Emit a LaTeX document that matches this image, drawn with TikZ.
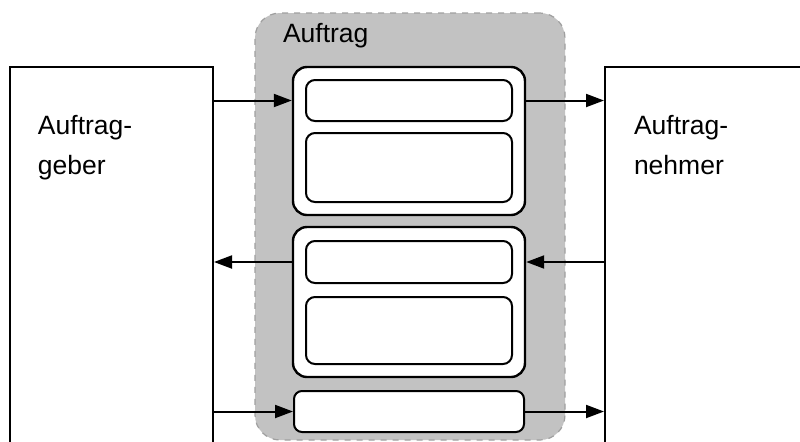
\documentclass[tikz,border=0pt]{standalone}
\usepackage{fontspec}
\setmainfont{Liberation Sans}
\usetikzlibrary{arrows.meta}

\begin{document}
\begin{tikzpicture}[x=0.5pt, y=-0.5pt,
  every node/.style={inner sep=0pt, line width=1pt},
  party/.style={draw, rectangle, minimum width=#1, minimum height=206.5pt},
  label/.style={anchor=north west, align=left, font=\fontsize{13.25pt}{20pt}\selectfont},
  outer/.style={draw, rounded corners=7pt, fill=white, minimum width=116pt, minimum height=75pt, line width=1.2pt},
  inner/.style={draw, rounded corners=4.5pt, fill=white, minimum width=103pt, minimum height=#1},
  flow/.style={line width=1pt, -{Triangle[length=9pt, width=6.5pt]}}]
  \clip (0,0) rectangle (800,441);
  % Auftraggeber und Auftragnehmer
  \node[party=101.5pt] (geber) at (111.5,273.5) {};
  \node[party=107.5pt] (nehmer) at (712.5,273.5) {};
  \node[label] (tgeber) at (37,114) {Auftrag-\\geber};
  \node[label] (tnehmer) at (633,114) {Auftrag-\\nehmer};
  % Auftrag
  \node[draw=gray!75, dashed, fill=gray!48, rounded corners=12.5pt, line width=0.6pt,
    minimum width=155pt, minimum height=213.5pt] (auftrag) at (410,226.5) {};
  \node[label] (tauftrag) at (282,22) {Auftrag};
  \node[outer, minimum height=74pt] (ua) at (409,141) {};
  \node[inner=20.5pt] (ua1) at (409,100.5) {};
  \node[inner=34.5pt] (ua2) at (409,167.5) {};
  \node[outer] (lb) at (409,302) {};
  \node[inner=21pt] (lb1) at (409,262) {};
  \node[inner=33.5pt] (lb2) at (409,330.5) {};
  \node[draw, rounded corners=4pt, fill=white, minimum width=115pt, minimum height=20.5pt] (bar) at (409,411.5) {};
  % Pfeile
  \draw[flow] (geber.east |- ua1) -- (ua.west |- ua1);
  \draw[flow] (ua.east |- ua1) -- (nehmer.west |- ua1);
  \draw[flow] (lb.west |- lb1) -- (geber.east |- lb1);
  \draw[flow] (nehmer.west |- lb1) -- (lb.east |- lb1);
  \draw[flow] (geber.east |- bar) -- (bar.west);
  \draw[flow] (bar.east) -- (nehmer.west |- bar);
\end{tikzpicture}
\end{document}
